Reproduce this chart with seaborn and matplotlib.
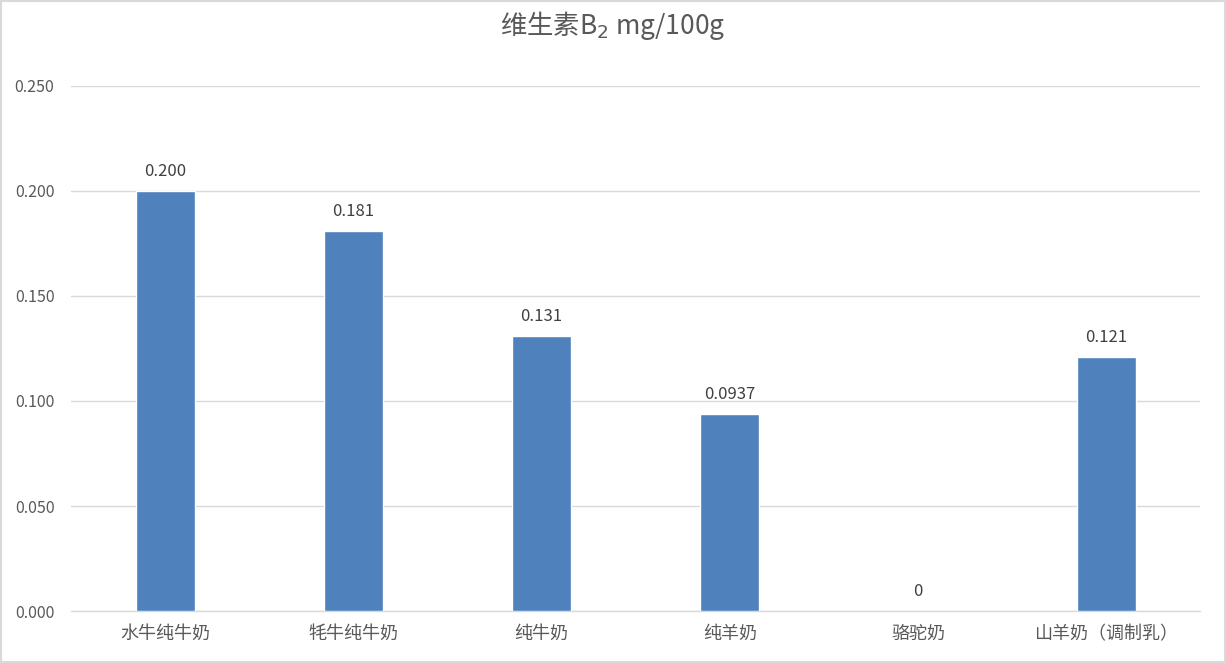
import matplotlib
matplotlib.use('Agg')
import matplotlib.pyplot as plt
import seaborn as sns
import pandas as pd

# Data
categories = ['水牛纯牛奶', '牦牛纯牛奶', '纯牛奶', '纯羊奶', '骆驼奶', '山羊奶（调制乳）']
values = [0.200, 0.181, 0.131, 0.0937, 0, 0.121]
value_labels = ['0.200', '0.181', '0.131', '0.0937', '0', '0.121']
y_ticks = [0.000, 0.050, 0.100, 0.150, 0.200, 0.250]

df = pd.DataFrame({'category': categories, 'value': values})

sns.set_style('white')
plt.rcParams['font.family'] = ['Noto Sans CJK SC', 'DejaVu Sans']

fig = plt.figure(figsize=(12.26, 6.63), dpi=100)
ax = fig.add_axes([0.058, 0.0784, 0.921, 0.792])

sns.barplot(data=df, x='category', y='value', color='#4F81BD', width=0.315,
            saturation=1, ax=ax, zorder=3)

ax.set_ylim(0, 0.25)
ax.set_yticks(y_ticks)
ax.set_yticklabels([f'{t:.3f}' for t in y_ticks], fontsize=11.5, color='#595959')
ax.tick_params(axis='x', labelsize=13, colors='#595959', length=0, pad=10)
ax.tick_params(axis='y', length=0, pad=12)
ax.grid(axis='y', color='#D9D9D9', linewidth=1, zorder=0)
ax.set_xlabel('')
ax.set_ylabel('')
for side in ['top', 'right', 'left']:
    ax.spines[side].set_visible(False)
ax.spines['bottom'].set_color('#D9D9D9')
ax.spines['bottom'].set_linewidth(1)

for i, (v, lab) in enumerate(zip(values, value_labels)):
    ax.annotate(lab, (i, v), xytext=(0, 8), textcoords='offset points',
                ha='center', va='bottom', fontsize=12, color='#404040')

fig.text(0.5, 0.962, '维生素B$_2$ mg/100g', ha='center', va='center',
         fontsize=19, color='#595959')

# outer chart frame
fig.patches.append(plt.Rectangle((0.001, 0.001), 0.998, 0.998, transform=fig.transFigure,
                                 fill=False, edgecolor='#D9D9D9', linewidth=1.5))

plt.savefig('out.png', dpi=100)
